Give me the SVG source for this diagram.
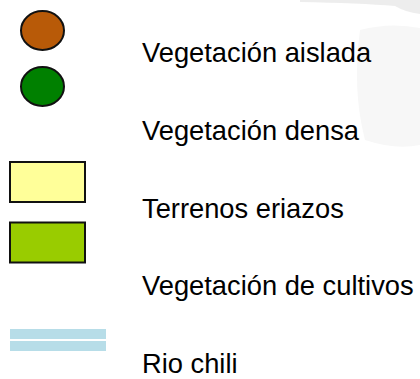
<svg xmlns="http://www.w3.org/2000/svg" width="420" height="379" viewBox="0 0 420 379">
<style>
.sym{stroke:#111;stroke-width:2}
.lbl{font-family:"Liberation Sans",Arial,sans-serif;font-size:27.3px;fill:#000}
.river{fill:#B7DDE8}
</style>
<rect width="420" height="379" fill="#fff"/>
<g id="background-artifacts">
<path d="M300,0 L420,0 L420,14 Q405,12 395,6 Q360,3 300,2 Z" fill="#e6e6e6" opacity="0.7"/>
<path d="M360,30 Q390,22 420,28 L420,145 Q395,150 365,140 Q352,90 360,30 Z" fill="#f7f7f7"/>
</g>
<g id="vegetacion-aislada">
<ellipse class="sym" cx="42.5" cy="30.5" rx="21.5" ry="19.5" fill="#B85A08"/>
<text class="lbl" x="142" y="62">Vegetación aislada</text>
</g>
<g id="vegetacion-densa">
<ellipse class="sym" cx="42.5" cy="86.5" rx="21.5" ry="19.5" fill="#008000"/>
<text class="lbl" x="142" y="140">Vegetación densa</text>
</g>
<g id="terrenos-eriazos">
<rect class="sym" x="10" y="162" width="75" height="40" fill="#FFFF99"/>
<text class="lbl" x="142" y="217.5">Terrenos eriazos</text>
</g>
<g id="vegetacion-cultivos">
<rect class="sym" x="10" y="222.5" width="75" height="40" fill="#99CC00"/>
<text class="lbl" x="142" y="294.5">Vegetación de cultivos</text>
</g>
<g id="rio-chili">
<rect class="river" x="10" y="329" width="96" height="10"/>
<rect class="river" x="10" y="341" width="96" height="10"/>
<text class="lbl" x="142" y="373">Rio chili</text>
</g>
<g id="connectors"/>
</svg>
